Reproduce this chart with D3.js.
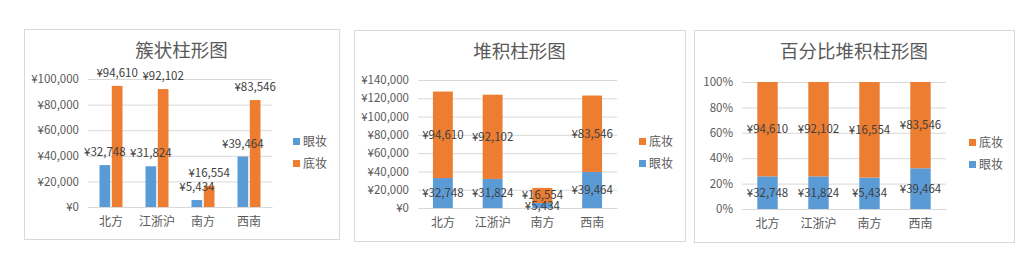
<!DOCTYPE html>
<html>
<head>
<meta charset="utf-8">
<script src="https://cdn.jsdelivr.net/npm/d3@7"></script>
<style>
  body { margin: 0; background: #fff; }
  svg text { font-family: "Noto Sans CJK SC", "Microsoft YaHei", sans-serif; }
</style>
</head>
<body>
<svg id="chart" width="1033" height="268"></svg>
<script>
// data
const categories = ["北方", "江浙沪", "南方", "西南"];
const seriesNames = ["眼妆", "底妆"];
const eyeValues = [32748, 31824, 5434, 39464];
const baseValues = [94610, 92102, 16554, 83546];
const titles = ["簇状柱形图", "堆积柱形图", "百分比堆积柱形图"];
const clusterTicks = [0, 20000, 40000, 60000, 80000, 100000];
const stackTicks = [0, 20000, 40000, 60000, 80000, 100000, 120000, 140000];
const pctTicks = [0, 0.2, 0.4, 0.6, 0.8, 1];

const colors = { "眼妆": "#5b9bd5", "底妆": "#ed7d31" };
const yen = v => "¥" + d3.format(",")(v);
const svg = d3.select("#chart");

const rows = categories.map((c, i) => ({ cat: c, "眼妆": eyeValues[i], "底妆": baseValues[i] }));

function frame(box, title) {
    const g = svg.append("g");
    g.append("rect")
        .attr("x", box.x + 0.5).attr("y", box.y + 0.5)
        .attr("width", box.w).attr("height", box.h)
        .attr("fill", "#fff").attr("stroke", "#d9d9d9");
    g.append("text")
        .attr("x", box.x + box.w / 2).attr("y", box.y + 28)
        .attr("text-anchor", "middle")
        .attr("fill", "#595959")
        .style("font-size", "18.5px")
        .text(title);
    return g;
}

function axes(g, plot, x, y, ticks, fmt) {
    const ya = g.append("g")
        .attr("transform", `translate(${plot.x0},0)`)
        .call(d3.axisLeft(y).tickValues(ticks).tickFormat(fmt)
            .tickSize(-(plot.x1 - plot.x0)).tickPadding(9));
    ya.select(".domain").remove();
    ya.selectAll("line").attr("stroke", "#d9d9d9");
    ya.selectAll("text").attr("fill", "#595959").style("font-size", "11.5px");

    const xa = g.append("g")
        .attr("transform", `translate(0,${plot.y0})`)
        .call(d3.axisBottom(x).tickSize(0).tickPadding(10));
    xa.select(".domain").attr("stroke", "#d9d9d9");
    xa.selectAll("text").attr("fill", "#595959").style("font-size", "12px");
}

function legend(g, lx, ly, order) {
    order.forEach((s, i) => {
        g.append("rect")
            .attr("x", lx).attr("y", ly + i * 22 - 4)
            .attr("width", 7).attr("height", 7)
            .attr("fill", colors[s]);
        g.append("text")
            .attr("x", lx + 10).attr("y", ly + i * 22)
            .attr("dy", "0.35em")
            .attr("fill", "#595959")
            .style("font-size", "12px")
            .text(s);
    });
}

function label(g, x, y, v) {
    g.append("text")
        .attr("x", x).attr("y", y)
        .attr("dy", "0.35em")
        .attr("text-anchor", "middle")
        .attr("fill", "#404040")
        .style("font-size", "11.5px")
        .text(yen(v));
}

// 1. clustered
(function () {
    const g = frame({ x: 24, y: 29, w: 315, h: 210 }, titles[0]);
    const plot = { x0: 88, x1: 272, y0: 207, y1: 79 };
    const x = d3.scaleBand().domain(categories).range([plot.x0, plot.x1]);
    const y = d3.scaleLinear().domain([0, 100000]).range([plot.y0, plot.y1]);
    axes(g, plot, x, y, clusterTicks, yen);
    const bw = x.bandwidth();
    const x1 = d3.scaleBand().domain(seriesNames).range([bw * 0.25, bw * 0.75]).paddingInner(0.13);
    rows.forEach(r => {
        seriesNames.forEach(s => {
            const bx = x(r.cat) + x1(s);
            g.append("rect")
                .attr("x", bx).attr("y", y(r[s]))
                .attr("width", x1.bandwidth()).attr("height", plot.y0 - y(r[s]))
                .attr("fill", colors[s]);
        });
        seriesNames.forEach(s => {
            label(g, x(r.cat) + x1(s) + x1.bandwidth() / 2, y(r[s]) - 13, r[s]);
        });
    });
    legend(g, 293, 142, ["眼妆", "底妆"]);
})();

// 2. stacked
(function () {
    const g = frame({ x: 354, y: 30, w: 331, h: 211 }, titles[1]);
    const plot = { x0: 418, x1: 617, y0: 208, y1: 80 };
    const x = d3.scaleBand().domain(categories).range([plot.x0, plot.x1]);
    const y = d3.scaleLinear().domain([0, 140000]).range([plot.y0, plot.y1]);
    axes(g, plot, x, y, stackTicks, yen);
    const stacked = d3.stack().keys(seriesNames)(rows);
    const bw = x.bandwidth() * 0.4;
    stacked.forEach(layer => {
        layer.forEach(d => {
            g.append("rect")
                .attr("x", x(d.data.cat) + (x.bandwidth() - bw) / 2)
                .attr("y", y(d[1]))
                .attr("width", bw).attr("height", y(d[0]) - y(d[1]))
                .attr("fill", colors[layer.key]);
        });
    });
    stacked.forEach(layer => {
        layer.forEach(d => {
            label(g, x(d.data.cat) + x.bandwidth() / 2, (y(d[0]) + y(d[1])) / 2, d.data[layer.key]);
        });
    });
    legend(g, 639, 142, ["底妆", "眼妆"]);
})();

// 3. percent stacked
(function () {
    const g = frame({ x: 694, y: 30, w: 320, h: 212 }, titles[2]);
    const plot = { x0: 742, x1: 946, y0: 209, y1: 82 };
    const x = d3.scaleBand().domain(categories).range([plot.x0, plot.x1]);
    const y = d3.scaleLinear().domain([0, 1]).range([plot.y0, plot.y1]);
    axes(g, plot, x, y, pctTicks, d3.format(".0%"));
    const stacked = d3.stack().keys(seriesNames).offset(d3.stackOffsetExpand)(rows);
    const bw = x.bandwidth() * 0.4;
    stacked.forEach(layer => {
        layer.forEach(d => {
            g.append("rect")
                .attr("x", x(d.data.cat) + (x.bandwidth() - bw) / 2)
                .attr("y", y(d[1]))
                .attr("width", bw).attr("height", y(d[0]) - y(d[1]))
                .attr("fill", colors[layer.key]);
        });
    });
    stacked.forEach(layer => {
        layer.forEach(d => {
            label(g, x(d.data.cat) + x.bandwidth() / 2, (y(d[0]) + y(d[1])) / 2, d.data[layer.key]);
        });
    });
    legend(g, 969, 143, ["底妆", "眼妆"]);
})();
</script>
</body>
</html>
